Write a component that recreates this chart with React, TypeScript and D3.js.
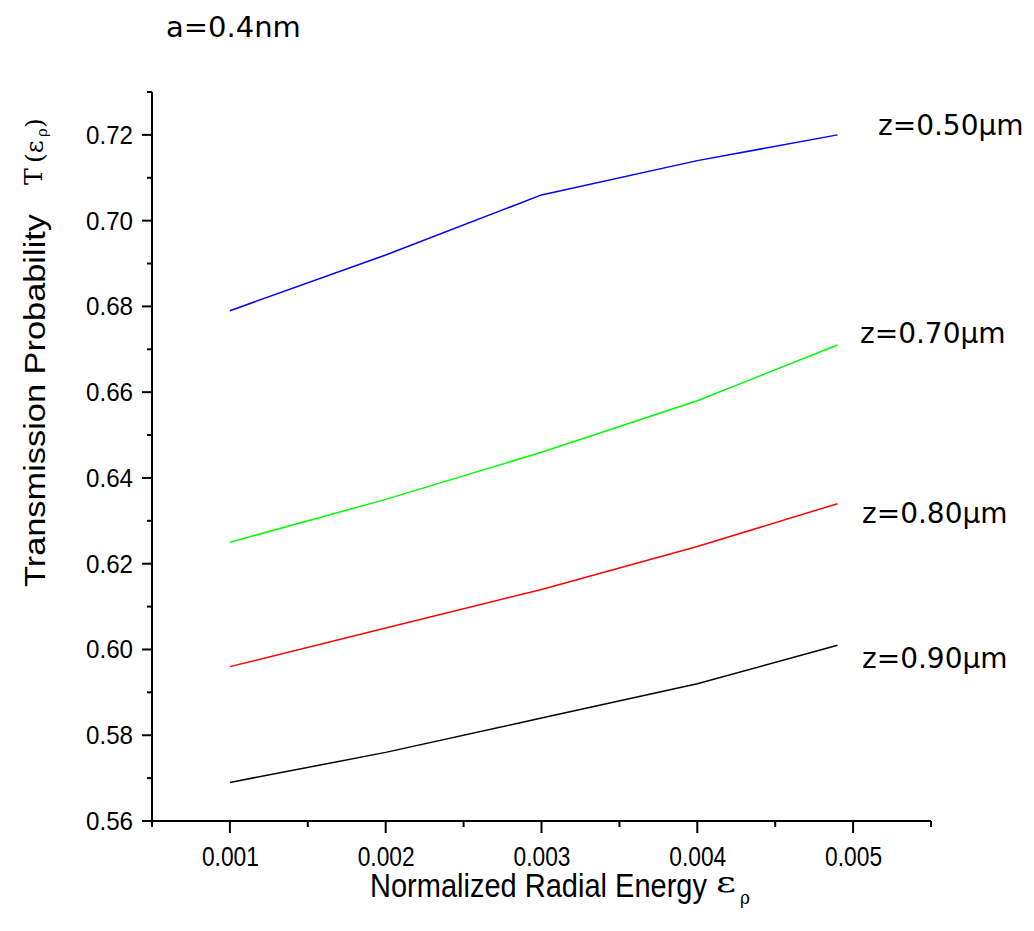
import React from "react";
import * as d3 from "d3";

// x values (normalized radial energy)
const energies = [0.001, 0.002, 0.003, 0.004, 0.0049];

// transmission probability per z
const z050 = [0.679, 0.692, 0.706, 0.714, 0.72];
const z070 = [0.625, 0.635, 0.646, 0.658, 0.671];
const z080 = [0.596, 0.605, 0.614, 0.624, 0.634];
const z090 = [0.569, 0.576, 0.584, 0.592, 0.601];

const seriesLabels = ["z=0.50μm", "z=0.70μm", "z=0.80μm", "z=0.90μm"];
const seriesColors = ["#0000ff", "#00ff00", "#ff0000", "#000000"];

const xTicks = [0.001, 0.002, 0.003, 0.004, 0.005];
const yTicks = [0.56, 0.58, 0.6, 0.62, 0.64, 0.66, 0.68, 0.7, 0.72];

export default function App() {
  const W = 1034;
  const H = 931;
  const left = 152;
  const right = 931;
  const top = 92;
  const bottom = 821;

  const x = d3.scaleLinear().domain([0.0005, 0.0055]).range([left, right]);
  const y = d3.scaleLinear().domain([0.56, 0.73]).range([bottom, top]);

  const all = [z050, z070, z080, z090];
  const line = d3
    .line<number>()
    .x((d, i) => x(energies[i]))
    .y((d) => y(d));

  // minor ticks halfway between majors
  const xMinor = d3.range(0, 6).map((i) => 0.0005 + i * 0.001);
  const yMinor = d3.range(0, 9).map((i) => 0.57 + i * 0.02);

  // label positions (left x, baseline y)
  const labelPos = [
    [878, 135],
    [860, 343],
    [862, 523],
    [862, 668],
  ];

  return (
    <svg
      width={W}
      height={H}
      style={{ position: "absolute", left: 0, top: 0, background: "#fff" }}
    >
      <text x={166} y={37} fontFamily="DejaVu Sans" fontSize={29} fill="#000">
        a=0.4nm
      </text>

      {/* axes */}
      <g stroke="#000" strokeWidth={2} fill="none">
        <line x1={left} y1={top} x2={left} y2={bottom + 1} />
        <line x1={left - 1} y1={bottom} x2={right} y2={bottom} />
        {yTicks.map((t) => (
          <line key={"yt" + t} x1={left - 10} x2={left} y1={y(t)} y2={y(t)} />
        ))}
        {yMinor.map((t) => (
          <line key={"ym" + t} x1={left - 5} x2={left} y1={y(t)} y2={y(t)} />
        ))}
        {xTicks.map((t) => (
          <line key={"xt" + t} x1={x(t)} x2={x(t)} y1={bottom} y2={bottom + 12} />
        ))}
        {xMinor.map((t) => (
          <line key={"xm" + t} x1={x(t)} x2={x(t)} y1={bottom} y2={bottom + 6} />
        ))}
      </g>

      {/* y tick labels */}
      <g fontFamily="Liberation Sans, Arial, sans-serif" fontSize={25} fill="#000">
        {yTicks.map((t) => (
          <text
            key={"yl" + t}
            x={left - 19}
            y={y(t) + 9}
            textAnchor="end"
            textLength={47}
            lengthAdjust="spacingAndGlyphs"
          >
            {d3.format(".2f")(t)}
          </text>
        ))}
      </g>

      {/* x tick labels */}
      <g fontFamily="Liberation Sans, Arial, sans-serif" fontSize={27} fill="#000">
        {xTicks.map((t) => (
          <text
            key={"xl" + t}
            x={x(t) - 28}
            y={866}
            textLength={57}
            lengthAdjust="spacingAndGlyphs"
          >
            {d3.format(".3f")(t)}
          </text>
        ))}
      </g>

      {/* x title */}
      <text
        x={370}
        y={897}
        fontFamily="Liberation Sans, Arial, sans-serif"
        fontSize={33}
        fill="#000"
        textLength={337}
        lengthAdjust="spacingAndGlyphs"
      >
        Normalized Radial Energy
      </text>
      <text
        x={716}
        y={892}
        fontFamily="DejaVu Serif"
        fontSize={28}
        fill="#000"
        textLength={20}
        lengthAdjust="spacingAndGlyphs"
      >
        ε
      </text>
      <text
        x={740}
        y={904}
        fontFamily="DejaVu Serif"
        fontSize={19}
        fill="#000"
        textLength={10}
        lengthAdjust="spacingAndGlyphs"
      >
        ρ
      </text>

      {/* y title */}
      <g transform="translate(45,587) rotate(-90)">
        <text
          x={0}
          y={0}
          fontFamily="Liberation Sans, Arial, sans-serif"
          fontSize={29}
          fill="#000"
          textLength={373}
          lengthAdjust="spacingAndGlyphs"
        >
          Transmission Probability
        </text>
        <text x={402} y={-3} fontFamily="DejaVu Serif" fontSize={25} fill="#000">
          T
        </text>
        <text x={424} y={-2} fontFamily="DejaVu Serif" fontSize={25} fill="#000">
          (ε
        </text>
        <text x={450} y={2} fontFamily="DejaVu Serif" fontSize={15} fill="#000">
          ρ
        </text>
        <text x={459} y={-2} fontFamily="DejaVu Serif" fontSize={25} fill="#000">
          )
        </text>
      </g>

      {/* series */}
      {all.map((s, i) => (
        <path
          key={"s" + i}
          d={line(s) || ""}
          fill="none"
          stroke={seriesColors[i]}
          strokeWidth={1.5}
        />
      ))}

      {seriesLabels.map((l, i) => (
        <text
          key={"l" + i}
          x={labelPos[i][0]}
          y={labelPos[i][1]}
          fontFamily="DejaVu Sans"
          fontSize={28}
          fill="#000"
        >
          {l}
        </text>
      ))}
    </svg>
  );
}
